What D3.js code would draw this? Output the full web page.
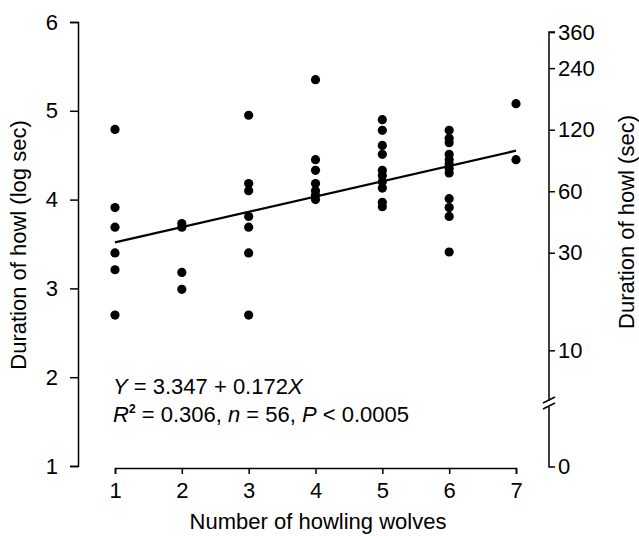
<!DOCTYPE html>
<html>
<head>
<meta charset="utf-8">
<script src="https://cdn.jsdelivr.net/npm/d3@7"></script>
<style>
  body { margin: 0; background: #fff; }
  svg text { font-family: "Liberation Sans", Arial, sans-serif; fill: #000; }
  .axis path, .axis line { stroke: #000; stroke-width: 1.5; }
</style>
</head>
<body>
<div id="chart"></div>
<script>
var width = 639;
var height = 536;

// wolves howling together (x) and log duration of the howl (y)
var wolves = [1,1,1,1,1,1,
              2,2,2,2,
              3,3,3,3,3,3,3,
              4,4,4,4,4,4,4,
              5,5,5,5,5,5,5,5,5,5,
              6,6,6,6,6,6,6,6,6,6,6,6,
              7,7];
var logDuration = [4.79,3.91,3.69,3.40,3.21,2.70,
                   3.73,3.69,3.18,2.99,
                   4.95,4.18,4.10,3.81,3.69,3.40,2.70,
                   5.35,4.45,4.33,4.18,4.10,4.05,4.00,
                   4.90,4.78,4.61,4.51,4.33,4.27,4.20,4.13,3.97,3.92,
                   4.78,4.69,4.64,4.51,4.45,4.40,4.35,4.30,4.01,3.91,3.81,3.41,
                   5.08,4.45];
var intercept = 3.347;
var slope = 0.172;

var xTicks = [1,2,3,4,5,6,7];
var yTicks = [1,2,3,4,5,6];
var secTicks = [10,30,60,120,240,360];

var fs = "22px";

var svg = d3.select("#chart")
            .append("svg")
            .attr("width", width)
            .attr("height", height);

var xScale = d3.scaleLinear()
               .domain([1,7])
               .range([115,516]);
var yScale = d3.scaleLinear()
               .domain([1,6])
               .range([466,22]);
// right axis: seconds on a natural log scale, same positions as the left
var secScale = d3.scaleLog()
                 .domain([Math.exp(1), Math.exp(6)])
                 .range([466,22]);

var xAxis = d3.axisBottom(xScale)
              .tickValues(xTicks)
              .tickFormat(d3.format("d"))
              .tickSize(6)
              .tickPadding(8)
              .tickSizeOuter(6);
var yAxis = d3.axisLeft(yScale)
              .tickValues(yTicks)
              .tickFormat(d3.format("d"))
              .tickSize(8)
              .tickPadding(12)
              .tickSizeOuter(8);
var secAxis = d3.axisRight(secScale)
                .tickValues(secTicks)
                .tickFormat(d3.format("d"))
                .tickSize(6)
                .tickPadding(3)
                .tickSizeOuter(0);

svg.append("g")
   .attr("class","axis")
   .attr("transform","translate(0,468)")
   .call(xAxis)
   .selectAll("text")
   .style("font-size",fs);

svg.append("g")
   .attr("class","axis")
   .attr("transform","translate(78,0)")
   .call(yAxis)
   .selectAll("text")
   .style("font-size",fs);

var right = svg.append("g")
   .attr("class","axis")
   .attr("transform","translate(549,0)")
   .call(secAxis);
right.select(".domain").remove();
right.selectAll("text").style("font-size",fs);

// right axis line with a break and a zero tick below it
var topY = secScale(360), zeroY = 467, breakY = 404;
right.append("path")
     .attr("d","M6," + topY + "H0V" + (breakY - 3) + "M0," + (breakY + 3) + "V" + zeroY + "H6")
     .attr("fill","none").attr("stroke","#000").attr("stroke-width",1.5);
right.append("path")
     .attr("d","M-6," + (breakY - 1) + "L6," + (breakY - 7) + "M-6," + (breakY + 5) + "L6," + (breakY - 1))
     .attr("fill","none").attr("stroke","#000").attr("stroke-width",1.2);
right.append("text")
     .attr("x",9).attr("y",zeroY).attr("dy","0.32em")
     .style("font-size",fs)
     .text("0");

// regression line
var lineData = [1,7].map(function(x){ return {x: x, y: intercept + slope*x}; });
var line = d3.line()
             .x(function(d){ return xScale(d.x); })
             .y(function(d){ return yScale(d.y); });
svg.append("path")
   .datum(lineData)
   .attr("d", line)
   .attr("fill","none")
   .attr("stroke","#000")
   .attr("stroke-width",2.2);

svg.selectAll("circle")
   .data(wolves)
   .enter()
   .append("circle")
   .attr("cx", function(d){ return xScale(d); })
   .attr("cy", function(d,i){ return yScale(logDuration[i]); })
   .attr("r", 4.6)
   .attr("fill","#000");

// equation text
var eq = svg.append("text").attr("x",113).attr("y",394).style("font-size",fs);
eq.append("tspan").style("font-style","italic").text("Y");
eq.append("tspan").text(" = 3.347 + 0.172");
eq.append("tspan").style("font-style","italic").text("X");

var r2 = svg.append("text").attr("x",113).attr("y",422).style("font-size",fs);
r2.append("tspan").style("font-style","italic").text("R");
r2.append("tspan").attr("dy",-9).style("font-size","12px").style("font-weight","bold").text("2");
r2.append("tspan").attr("dy",9).text(" = 0.306, ");
r2.append("tspan").style("font-style","italic").text("n");
r2.append("tspan").text(" = 56, ");
r2.append("tspan").style("font-style","italic").text("P");
r2.append("tspan").text(" < 0.0005");

// axis titles
svg.append("text")
   .attr("x",318).attr("y",529)
   .attr("text-anchor","middle")
   .style("font-size",fs)
   .text("Number of howling wolves");
svg.append("text")
   .attr("transform","translate(26,245) rotate(-90)")
   .attr("text-anchor","middle")
   .style("font-size",fs)
   .text("Duration of howl (log sec)");
svg.append("text")
   .attr("transform","translate(634,222) rotate(-90)")
   .attr("text-anchor","middle")
   .style("font-size",fs)
   .text("Duration of howl (sec)");
</script>
</body>
</html>
